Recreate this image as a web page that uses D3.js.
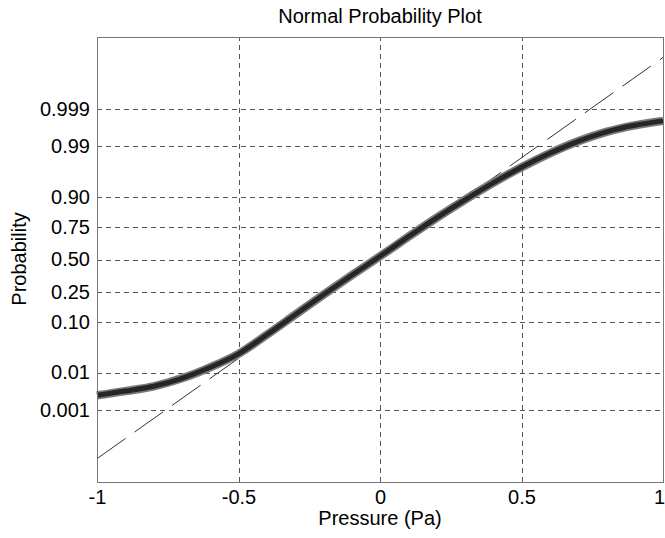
<!DOCTYPE html>
<html>
<head>
<meta charset="utf-8">
<script src="https://cdn.jsdelivr.net/npm/d3@7"></script>
<style>
  body { margin: 0; background: #fff; }
  text { font-family: 'Liberation Sans', Arial, sans-serif; fill: #000; }
</style>
</head>
<body>
<script>
// tick values / labels
const probTicks = [0.001, 0.01, 0.10, 0.25, 0.50, 0.75, 0.90, 0.99, 0.999];
const probLabels = ['0.001', '0.01', '0.10', '0.25', '0.50', '0.75', '0.90', '0.99', '0.999'];
const xTicks = [-1, -0.5, 0, 0.5, 1];
const xLabels = ['-1', '-0.5', '0', '0.5', '1'];

// sample curve
const pressure = [-1.0, -0.9, -0.8, -0.7, -0.6, -0.5, -0.4, -0.3, -0.2, -0.1, 0.0,
                  0.1, 0.2, 0.3, 0.4, 0.5, 0.6, 0.7, 0.8, 0.9, 1.0];
const probability = [0.00259, 0.00338, 0.00453, 0.00724, 0.01324, 0.0261, 0.0606, 0.1275, 0.2338, 0.3726, 0.5263,
                     0.6798, 0.8045, 0.8904, 0.9428, 0.9711, 0.98558, 0.99250, 0.99570, 0.99713, 0.99784];

// reference line endpoints
const refPressure = [-1, 1];
const refProbability = [0.0000207, 0.999984];

// inverse normal cdf (Acklam)
function norminv(p) {
  const a = [-3.969683028665376e+01, 2.209460984245205e+02, -2.759285104469687e+02, 1.383577518672690e+02, -3.066479806614716e+01, 2.506628277459239e+00];
  const b = [-5.447609879822406e+01, 1.615858368580409e+02, -1.556989798598866e+02, 6.680131188771972e+01, -1.328068155288572e+01];
  const c = [-7.784894002430293e-03, -3.223964580411365e-01, -2.400758277161838e+00, -2.549671010229528e+00, 4.374664141464968e+00, 2.938163982698783e+00];
  const d = [7.784695709041462e-03, 3.224671290700398e-01, 2.445134137142996e+00, 3.754408661907416e+00];
  const plow = 0.02425;
  let q, r;
  if (p < plow) {
    q = Math.sqrt(-2 * Math.log(p));
    return (((((c[0]*q+c[1])*q+c[2])*q+c[3])*q+c[4])*q+c[5]) / ((((d[0]*q+d[1])*q+d[2])*q+d[3])*q+1);
  }
  if (p > 1 - plow) {
    q = Math.sqrt(-2 * Math.log(1 - p));
    return -(((((c[0]*q+c[1])*q+c[2])*q+c[3])*q+c[4])*q+c[5]) / ((((d[0]*q+d[1])*q+d[2])*q+d[3])*q+1);
  }
  q = p - 0.5;
  r = q * q;
  return (((((a[0]*r+a[1])*r+a[2])*r+a[3])*r+a[4])*r+a[5])*q / (((((b[0]*r+b[1])*r+b[2])*r+b[3])*r+b[4])*r+1);
}

const w = 665;
const h = 538;
const margin = {top: 37, right: 2, bottom: 56, left: 97};
const pw = w - margin.left - margin.right;
const ph = h - margin.top - margin.bottom;

const svg = d3.select('body')
              .append('svg')
              .attr('width', w)
              .attr('height', h);

const g = svg.append('g')
             .attr('transform', 'translate(' + margin.left + ',' + margin.top + ')');

const xScale = d3.scaleLinear().domain([-1, 1]).range([0, pw]);
const yScale = d3.scaleLinear().domain([-4.58, 4.58]).range([ph, 0]);

// y axis with dashed grid
const yAxis = d3.axisLeft(yScale)
                .tickValues(probTicks.map(norminv))
                .tickFormat((d, i) => probLabels[i])
                .tickSize(-pw)
                .tickPadding(7);

const yG = g.append('g').attr('class', 'y-axis').call(yAxis);
yG.select('.domain').remove();
yG.selectAll('line')
  .attr('stroke', '#555')
  .attr('stroke-dasharray', '5,4')
  .attr('shape-rendering', 'crispEdges');
yG.selectAll('text')
  .style('font-size', '20px')
  .style('font-family', "'Liberation Sans', Arial, sans-serif");

// x axis with dashed grid
const xAxis = d3.axisBottom(xScale)
                .tickValues(xTicks)
                .tickFormat((d, i) => xLabels[i])
                .tickSize(-ph)
                .tickPadding(8);

const xG = g.append('g')
            .attr('class', 'x-axis')
            .attr('transform', 'translate(0,' + ph + ')')
            .call(xAxis);
xG.select('.domain').remove();
xG.selectAll('line')
  .attr('stroke', (d) => (d === -1 || d === 1) ? 'none' : '#555')
  .attr('stroke-dasharray', '5,4')
  .attr('shape-rendering', 'crispEdges');
xG.selectAll('text')
  .style('font-size', '20px')
  .style('font-family', "'Liberation Sans', Arial, sans-serif")
  .attr('dx', (d) => d === 1 ? -4 : 0);

// reference line
const refLine = d3.line()
                  .x((d, i) => xScale(refPressure[i]))
                  .y((d, i) => yScale(norminv(refProbability[i])));

g.append('path')
 .datum(refPressure)
 .attr('d', refLine)
 .attr('fill', 'none')
 .attr('stroke', '#333')
 .attr('stroke-width', 1)
 .attr('stroke-dasharray', '35,11');

// sample curve (thick band of markers)
const curve = d3.line()
                .curve(d3.curveCatmullRom)
                .x((d, i) => xScale(pressure[i]))
                .y((d, i) => yScale(norminv(probability[i])));

g.append('path')
 .datum(pressure)
 .attr('d', curve)
 .attr('fill', 'none')
 .attr('stroke', '#7a7a7a')
 .attr('stroke-width', 8.5);

g.append('path')
 .datum(pressure)
 .attr('d', curve)
 .attr('fill', 'none')
 .attr('stroke', '#262626')
 .attr('stroke-width', 5);

// box
g.append('rect')
 .attr('x', 0)
 .attr('y', 0)
 .attr('width', pw)
 .attr('height', ph)
 .attr('fill', 'none')
 .attr('stroke', '#777')
 .attr('shape-rendering', 'crispEdges');

// title and labels
svg.append('text')
   .attr('x', margin.left + pw / 2)
   .attr('y', 23)
   .attr('text-anchor', 'middle')
   .style('font-size', '20px')
   .text('Normal Probability Plot');

svg.append('text')
   .attr('x', margin.left + pw / 2)
   .attr('y', 525)
   .attr('text-anchor', 'middle')
   .style('font-size', '20px')
   .text('Pressure (Pa)');

svg.append('text')
   .attr('transform', 'rotate(-90)')
   .attr('x', -259)
   .attr('y', 26)
   .attr('text-anchor', 'middle')
   .style('font-size', '20px')
   .text('Probability');
</script>
</body>
</html>
